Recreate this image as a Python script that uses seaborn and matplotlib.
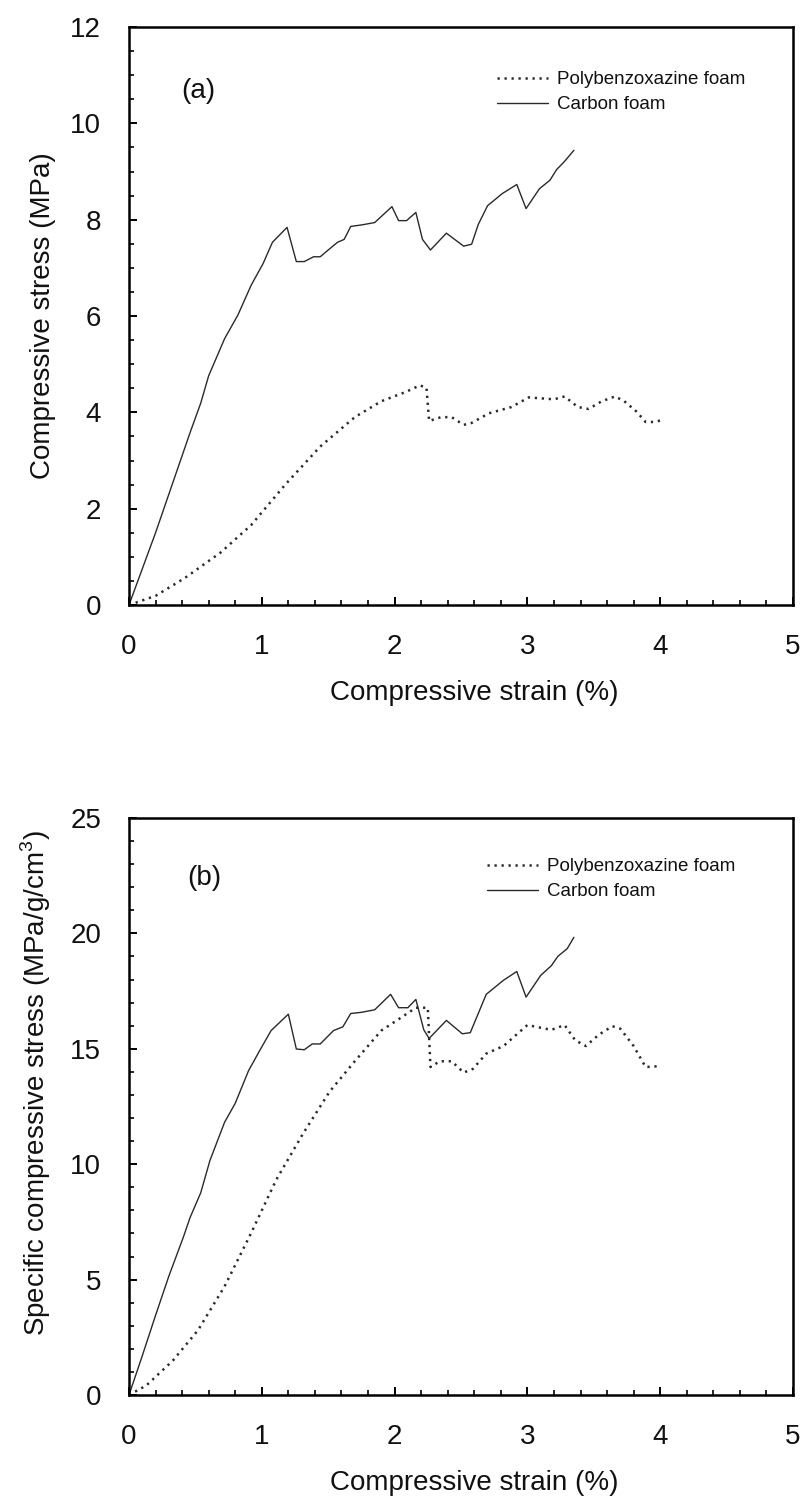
import matplotlib
matplotlib.use("Agg")
import matplotlib.pyplot as plt
import seaborn as sns
import pandas as pd
from matplotlib.ticker import MultipleLocator

# ---------------- data ----------------
series_names = ["Polybenzoxazine foam", "Carbon foam"]
panel_tags = ["(a)", "(b)"]
x_label = "Compressive strain (%)"
y_label_a = "Compressive stress (MPa)"
y_label_b = "Specific compressive stress (MPa/g/cm$^3$)"

# panel (a): compressive stress (MPa)
pbz_strain_a = [0, 0.20, 0.42, 0.69, 0.92, 1.18, 1.44, 1.70, 1.90, 2.09, 2.19, 2.24,
                2.26, 2.35, 2.43, 2.52, 2.58, 2.71, 2.88, 3.01, 3.20, 3.28, 3.38,
                3.46, 3.56, 3.66, 3.73, 3.82, 3.89, 3.95, 4.02]
pbz_stress_a = [0, 0.19, 0.56, 1.09, 1.66, 2.51, 3.29, 3.90, 4.23, 4.43, 4.56, 4.51,
                3.82, 3.90, 3.90, 3.74, 3.78, 3.98, 4.11, 4.31, 4.27, 4.33, 4.11,
                4.07, 4.23, 4.33, 4.23, 4.02, 3.80, 3.80, 3.84]

cf_strain_a = [0, 0.10, 0.20, 0.30, 0.40, 0.46, 0.54, 0.60, 0.72, 0.82, 0.92, 1.01,
               1.08, 1.19, 1.26, 1.32, 1.39, 1.44, 1.50, 1.57, 1.62, 1.67, 1.75,
               1.85, 1.98, 2.03, 2.09, 2.16, 2.21, 2.27, 2.39, 2.52, 2.58, 2.63,
               2.70, 2.81, 2.92, 2.99, 3.09, 3.17, 3.22, 3.28, 3.35]
cf_stress_a = [0, 0.75, 1.50, 2.30, 3.10, 3.58, 4.19, 4.76, 5.53, 6.02, 6.64, 7.09,
               7.53, 7.84, 7.13, 7.13, 7.23, 7.23, 7.37, 7.53, 7.59, 7.86, 7.89,
               7.94, 8.27, 7.98, 7.98, 8.15, 7.59, 7.37, 7.72, 7.45, 7.49, 7.90,
               8.29, 8.54, 8.73, 8.23, 8.64, 8.82, 9.04, 9.21, 9.44]

# panel (b): specific compressive stress (MPa/g/cm3)
pbz_strain_b = [0, 0.13, 0.33, 0.52, 0.72, 0.92, 1.11, 1.31, 1.51, 1.70, 1.90, 2.03,
                2.16, 2.25, 2.27, 2.34, 2.43, 2.52, 2.59, 2.69, 2.82, 3.00, 3.18,
                3.28, 3.36, 3.44, 3.54, 3.64, 3.70, 3.80, 3.89, 4.00]
pbz_stress_b = [0, 0.41, 1.49, 2.81, 4.71, 7.02, 9.34, 11.32, 13.14, 14.46, 15.79,
                16.28, 16.78, 16.78, 14.21, 14.46, 14.46, 13.97, 14.13, 14.79, 15.12,
                16.03, 15.82, 16.03, 15.37, 15.12, 15.62, 15.98, 15.87, 15.12, 14.21,
                14.25]

cf_strain_b = [0, 0.10, 0.20, 0.30, 0.41, 0.46, 0.54, 0.61, 0.72, 0.80, 0.90, 0.98,
               1.07, 1.20, 1.26, 1.32, 1.38, 1.44, 1.54, 1.61, 1.67, 1.75, 1.85,
               1.97, 2.03, 2.10, 2.16, 2.22, 2.26, 2.39, 2.51, 2.57, 2.69, 2.82,
               2.92, 2.99, 3.10, 3.18, 3.23, 3.30, 3.35]
cf_stress_b = [0, 1.70, 3.45, 5.15, 6.85, 7.69, 8.76, 10.17, 11.82, 12.64, 14.05,
               14.88, 15.79, 16.50, 14.99, 14.96, 15.21, 15.21, 15.79, 15.95, 16.53,
               16.58, 16.69, 17.36, 16.78, 16.78, 17.14, 15.82, 15.45, 16.23, 15.65,
               15.70, 17.36, 17.97, 18.35, 17.24, 18.18, 18.60, 19.01, 19.34, 19.83]

x_ticks = [0, 1, 2, 3, 4, 5]
y_ticks_a = [0, 2, 4, 6, 8, 10, 12]
y_ticks_b = [0, 5, 10, 15, 20, 25]

# ---------------- style ----------------
sns.set_theme(style="ticks")
plt.rcParams["font.family"] = ["Liberation Sans", "DejaVu Sans"]
plt.rcParams["mathtext.fontset"] = "custom"
plt.rcParams["mathtext.rm"] = "Liberation Sans"

LINE_COLOR = "#2a2a2a"
W, H = 805, 1500
fig = plt.figure(figsize=(W / 100, H / 100), dpi=100)

left = 129 / W
width = (793 - 129) / W
ax_a = fig.add_axes([left, 1 - 605 / H, width, (605 - 27) / H])
ax_b = fig.add_axes([left, 1 - 1395 / H, width, (1395 - 818) / H])

def draw(ax, sx_p, sy_p, sx_c, sy_c, ylim, yticks, ymin_step, ylabel, ylabel_xy,
         tag, tag_xy, leg_xy):
    df_p = pd.DataFrame({"strain": sx_p, "stress": sy_p})
    df_c = pd.DataFrame({"strain": sx_c, "stress": sy_c})
    sns.lineplot(data=df_p, x="strain", y="stress", ax=ax, sort=False, estimator=None,
                 color=LINE_COLOR, lw=1.8, linestyle=(0, (0.9, 1.9)),
                 label=series_names[0])
    sns.lineplot(data=df_c, x="strain", y="stress", ax=ax, sort=False, estimator=None,
                 color=LINE_COLOR, lw=1.0, linestyle="-", label=series_names[1])
    ax.set_xlim(0, 5)
    ax.set_ylim(*ylim)
    ax.set_xticks(x_ticks)
    ax.set_yticks(yticks)
    ax.xaxis.set_minor_locator(MultipleLocator(0.2))
    ax.yaxis.set_minor_locator(MultipleLocator(ymin_step))
    ax.tick_params(axis="both", which="major", direction="in", length=6, width=1.4,
                   labelsize=20, color="black", labelcolor="#111111")
    ax.tick_params(axis="x", which="major", pad=21)
    ax.tick_params(axis="y", which="major", pad=20)
    ax.tick_params(axis="both", which="minor", direction="in", length=3.5, width=1.2,
                   color="black")
    ax.tick_params(top=False, right=False, which="both")
    for s in ax.spines.values():
        s.set_visible(True)
        s.set_linewidth(1.8)
        s.set_color("black")
    ax.set_xlabel(x_label, fontsize=20, color="#111111")
    ax.set_ylabel(ylabel, fontsize=20, color="#111111")
    ax.xaxis.set_label_coords(0.52, -0.13)
    ax.yaxis.set_label_coords(*ylabel_xy)
    ax.text(tag_xy[0], tag_xy[1], tag, transform=ax.transAxes, fontsize=20,
            ha="center", va="center", color="#111111")
    ax.legend(loc="center left", bbox_to_anchor=leg_xy, frameon=False, fontsize=13.5,
              handlelength=2.75, handletextpad=0.45, labelspacing=0.42,
              borderpad=0, borderaxespad=0, labelcolor="#111111")

draw(ax_a, pbz_strain_a, pbz_stress_a, cf_strain_a, cf_stress_a, (0, 12), y_ticks_a,
     0.5, y_label_a, (-0.110, 0.5), panel_tags[0], (0.104, 0.889), (0.554, 0.887))
draw(ax_b, pbz_strain_b, pbz_stress_b, cf_strain_b, cf_stress_b, (0, 25), y_ticks_b,
     1.0, y_label_b, (-0.115, 0.54), panel_tags[1], (0.114, 0.896), (0.539, 0.894))

fig.savefig("out.png", dpi=100, facecolor="white")
